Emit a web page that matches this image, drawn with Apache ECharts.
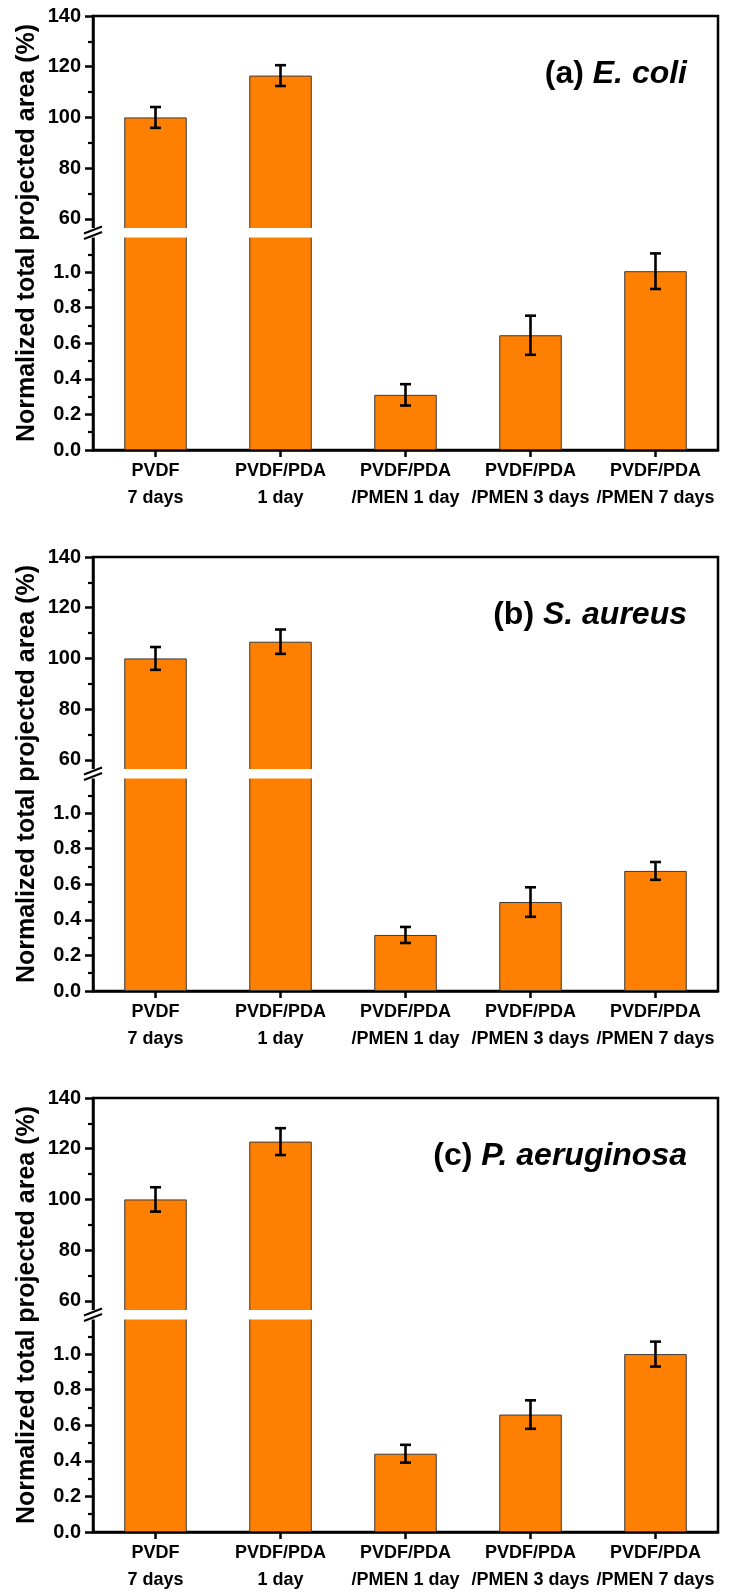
<!DOCTYPE html>
<html><head><meta charset="utf-8">
<script src="https://cdn.jsdelivr.net/npm/echarts@6/dist/echarts.min.js"></script>
<style>html,body{margin:0;padding:0;background:#fff}#c{width:730px;height:1593px}</style>
</head><body><div id="c"></div>
<script>
// ---------- data ----------
const categories = ['PVDF\n7 days', 'PVDF/PDA\n1 day', 'PVDF/PDA\n/PMEN 1 day', 'PVDF/PDA\n/PMEN 3 days', 'PVDF/PDA\n/PMEN 7 days'];
const ecoliMean = [100, 116.5, 0.31, 0.645, 1.005];
const ecoliErr = [4.1, 4.1, 0.06, 0.11, 0.10];
const saureusMean = [100, 106.6, 0.315, 0.50, 0.675];
const saureusErr = [4.5, 4.8, 0.045, 0.083, 0.05];
const paeruginosaMean = [100, 122.8, 0.44, 0.66, 1.0];
const paeruginosaErr = [4.8, 5.3, 0.05, 0.08, 0.07];
const panelLabels = ['(a) ', '(b) ', '(c) '];
const panelSpecies = ['E. coli', 'S. aureus', 'P. aeruginosa'];
const upperRange = [56, 140];
const lowerRange = [0, 1.2];
const upperTicks = [60, 80, 100, 120, 140];
const upperMinorTicks = [70, 90, 110, 130];
const lowerTicks = [0, 0.2, 0.4, 0.6, 0.8, 1.0];
const lowerMinorTicks = [0.1, 0.3, 0.5, 0.7, 0.9, 1.1];
const yTitle = 'Normalized total projected area (%)';

// ---------- layout ----------
const FONT = '"Liberation Sans", Arial, Helvetica, sans-serif';
const L = 93, W = 625, PH = 434, UH = 213, LH = 213.5;
const TOPS = [16, 557, 1098];
const BAR = '#FF8000';

const panels = [
  { mean: ecoliMean, err: ecoliErr },
  { mean: saureusMean, err: saureusErr },
  { mean: paeruginosaMean, err: paeruginosaErr }
];

function renderErr(params, api) {
  const x = api.value(0), lo = api.value(1), hi = api.value(2);
  const a = api.coord([x, lo]), b = api.coord([x, hi]);
  const hw = 5.5;
  const st = { stroke: '#000', lineWidth: 2.6, fill: null };
  return { type: 'group', children: [
    { type: 'line', shape: { x1: a[0], y1: a[1], x2: b[0], y2: b[1] }, style: st },
    { type: 'line', shape: { x1: a[0] - hw, y1: a[1], x2: a[0] + hw, y2: a[1] }, style: st },
    { type: 'line', shape: { x1: b[0] - hw, y1: b[1], x2: b[0] + hw, y2: b[1] }, style: st }
  ]};
}

const option = { animation: false, backgroundColor: '#fff', grid: [], xAxis: [], yAxis: [], series: [], title: [], graphic: [] };
const axisLineStyle = { color: '#000', width: 2.5 };
const tickLabel = { color: '#000', fontSize: 20, fontWeight: 'bold', fontFamily: FONT, margin: 12 };

panels.forEach((p, k) => {
  const T = TOPS[k];
  const gi = option.grid.length;
  option.grid.push({ left: L, width: W, top: T, height: UH, containLabel: false, outerBoundsMode: 'none' });
  option.grid.push({ left: L, width: W, top: T + PH - LH, height: LH, containLabel: false, outerBoundsMode: 'none' });
  option.grid.push({ left: L, width: W, top: T, height: PH, show: true, borderColor: '#000', borderWidth: 2.5, backgroundColor: 'transparent', containLabel: false, outerBoundsMode: 'none' });

  const xi = option.xAxis.length;
  option.xAxis.push({ type: 'category', gridIndex: gi, data: categories, show: false });
  option.xAxis.push({ type: 'category', gridIndex: gi + 1, data: categories, position: 'bottom',
    axisLine: { show: true, lineStyle: axisLineStyle },
    axisTick: { show: true, alignWithLabel: true, length: 7, lineStyle: { color: '#000', width: 2.5 } },
    axisLabel: { interval: 0, color: '#000', fontSize: 18, fontWeight: 'bold', fontFamily: FONT, lineHeight: 27, margin: 8 },
    splitLine: { show: false } });
  option.xAxis.push({ type: 'value', gridIndex: gi + 2, show: false });

  const yi = option.yAxis.length;
  option.yAxis.push({ type: 'value', gridIndex: gi, min: upperRange[0], max: upperRange[1], position: 'left',
    axisLine: { show: true, lineStyle: axisLineStyle },
    axisTick: { show: true, length: 8, customValues: upperTicks, lineStyle: { color: '#000', width: 2.5 } },
    axisLabel: Object.assign({ customValues: upperTicks }, tickLabel),
    splitLine: { show: false } });
  option.yAxis.push({ type: 'value', gridIndex: gi, min: upperRange[0], max: upperRange[1], position: 'left',
    axisLine: { show: false },
    axisTick: { show: true, length: 5, customValues: upperMinorTicks, lineStyle: { color: '#000', width: 2.2 } },
    axisLabel: { show: false }, splitLine: { show: false } });
  option.yAxis.push({ type: 'value', gridIndex: gi + 1, min: lowerRange[0], max: lowerRange[1], position: 'left',
    axisLine: { show: true, lineStyle: axisLineStyle },
    axisTick: { show: true, length: 8, customValues: lowerTicks, lineStyle: { color: '#000', width: 2.5 } },
    axisLabel: Object.assign({ customValues: lowerTicks, formatter: v => v.toFixed(1) }, tickLabel),
    splitLine: { show: false } });
  option.yAxis.push({ type: 'value', gridIndex: gi + 1, min: lowerRange[0], max: lowerRange[1], position: 'left',
    axisLine: { show: false },
    axisTick: { show: true, length: 5, customValues: lowerMinorTicks, lineStyle: { color: '#000', width: 2.2 } },
    axisLabel: { show: false }, splitLine: { show: false } });
  option.yAxis.push({ type: 'value', gridIndex: gi + 2, show: false });

  const barStyle = { color: BAR, borderColor: '#3a3a3a', borderWidth: 1 };
  option.series.push({ type: 'bar', xAxisIndex: xi, yAxisIndex: yi, data: p.mean, barWidth: '50%', clip: true, itemStyle: barStyle, z: 2 });
  option.series.push({ type: 'bar', xAxisIndex: xi + 1, yAxisIndex: yi + 2, data: p.mean, barWidth: '50%', clip: true, itemStyle: barStyle, z: 2 });

  const upErr = [], lowErr = [];
  p.mean.forEach((v, i) => {
    const item = [i, v - p.err[i], v + p.err[i]];
    if (v > upperRange[0]) upErr.push(item); else lowErr.push(item);
  });
  option.series.push({ type: 'custom', xAxisIndex: xi, yAxisIndex: yi, data: upErr, renderItem: renderErr, encode: { x: 0, y: [1, 2] }, z: 5 });
  option.series.push({ type: 'custom', xAxisIndex: xi + 1, yAxisIndex: yi + 2, data: lowErr, renderItem: renderErr, encode: { x: 0, y: [1, 2] }, z: 5 });

  option.title.push({
    text: '{n|' + panelLabels[k] + '}{i|' + panelSpecies[k] + '}',
    right: 38, top: T + 37,
    textStyle: { rich: {
      n: { fontSize: 32, fontWeight: 'bold', fontFamily: FONT, color: '#000' },
      i: { fontSize: 32, fontWeight: 'bold', fontStyle: 'italic', fontFamily: FONT, color: '#000' }
    } }
  });

  // y-axis title
  option.graphic.push({ type: 'text', x: 27, y: T + PH / 2, rotation: Math.PI / 2, z: 100,
    style: { text: yTitle, fontSize: 25, fontWeight: 'bold', fontFamily: FONT, fill: '#000', align: 'center', verticalAlign: 'middle' } });
  // axis break: white gap and slashes
  const gTop = T + UH, gBot = T + PH - LH, c = (gTop + gBot) / 2;
  option.graphic.push({ type: 'rect', z: 100, shape: { x: L - 3, y: gTop - 1, width: W - 1.5, height: gBot - gTop + 2 }, style: { fill: '#fff' } });
  [-2.8, 2.8].forEach(d => {
    option.graphic.push({ type: 'line', z: 101, shape: { x1: L - 9, y1: c + d + 3.5, x2: L + 9, y2: c + d - 3.5 }, style: { stroke: '#000', lineWidth: 2 } });
  });
});

const chart = echarts.init(document.getElementById('c'), null, { renderer: 'canvas' });
chart.setOption(option);
</script>
</body></html>
